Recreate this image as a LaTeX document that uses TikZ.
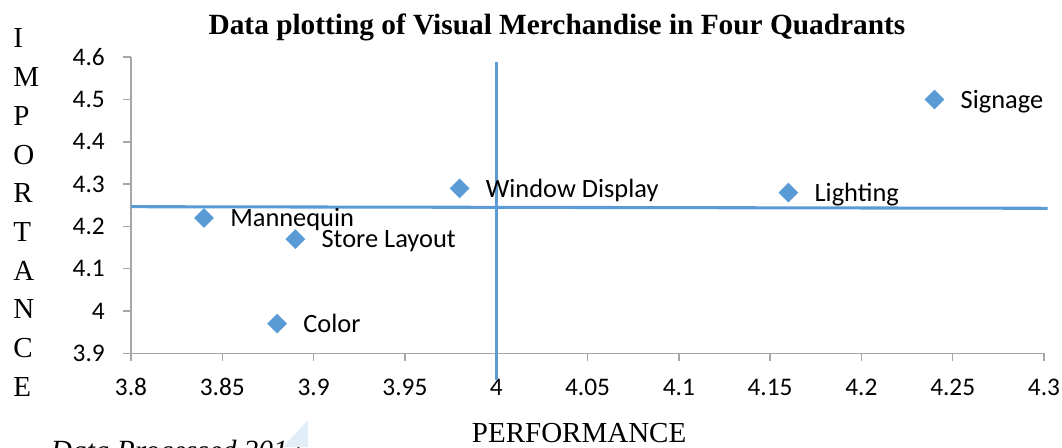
\documentclass[tikz,border=0pt]{standalone}
\usepackage{fontspec}
\setmainfont{Liberation Serif}
\newfontfamily\chartfont{Carlito}
\usetikzlibrary{positioning,shapes.geometric}
\definecolor{quadblue}{HTML}{5B9BD5}
\definecolor{axisgray}{HTML}{A6A6A6}
\tikzset{
  point/.style={diamond, fill=quadblue, inner sep=0pt, minimum width=15pt, minimum height=15pt},
  ptlabel/.style={font=\chartfont\fontsize{19.8}{21}\selectfont, anchor=base west, inner sep=0pt},
  ticklabel/.style={font=\chartfont\fontsize{19}{21}\selectfont, inner sep=0pt},
  axisline/.style={draw=axisgray, line width=1.1pt},
  quadline/.style={draw=quadblue, line width=2.3pt},
  serifbig/.style={font=\fontsize{21.75}{24}\selectfont, inner sep=0pt}
}

\begin{document}
\begin{tikzpicture}[x=0.75pt, y=0.75pt]
  \useasboundingbox (0,0) rectangle (1062,447);
  \clip (0,0) rectangle (1062,447);

  % title and axis names
  \node[font=\bfseries\fontsize{22}{24}\selectfont, anchor=base, inner sep=0pt] (title) at (557,412.7)
    {Data plotting of Visual Merchandise in Four Quadrants};
  \foreach \c [count=\k from 0] in {I,M,P,O,R,T,A,N,C,E}
    \node[serifbig, anchor=base west] (imp-\k) at (13,{399-38.7*\k}) {\c};
  \node[serifbig, anchor=base west] (perf) at (471.7,4.5) {PERFORMANCE};
  \node[serifbig, anchor=base west, font=\itshape\fontsize{22}{24}\selectfont] (src) at (50.7,-13.5) {Data Processed 2017};
  \fill[quadblue!18] (308,27) -- (308,0) -- (283,0) -- cycle;

  % plot area, data units
  \begin{scope}[xshift=98.25pt, yshift=70.275pt, x=1369.5pt, y=317.25pt]
    \coordinate (o) at (0,0);
    \coordinate (ytop) at (0,0.7);
    \coordinate (xend) at (0.5,0);
    \draw[axisline] (ytop) -- (o) -- (xend);
    \foreach \v in {3.9,4,4.1,4.2,4.3,4.4,4.5,4.6} {
      \draw[axisline] ({0},{\v-3.9}) -- ++(-6pt,0);
      \node[ticklabel, anchor=east] (yt-\v) at ([xshift=-19.5pt]0,{\v-3.9}) {\v};
    }
    \foreach \v in {3.8,3.85,3.9,3.95,4,4.05,4.1,4.15,4.2,4.25,4.3} {
      \draw[axisline] ({\v-3.8},0) -- ++(0,-6pt);
      \node[ticklabel, anchor=base] (xt-\v) at ([yshift=-31.3pt]{\v-3.8},0) {\v};
    }

    % quadrant split
    \coordinate (vtop) at (0.2,0.689);
    \coordinate (vbot) at (0.2,-0.063);
    \coordinate (hleft) at (0,0.3466);
    \coordinate (hright) at (0.502,0.3428);
    \draw[quadline] (vtop) -- (vbot);
    \draw[quadline] (hleft) -- (hright);

    % visual merchandise items
    \foreach \p/\i/\name/\lbl in {4.24/4.5/sig/Signage, 4.16/4.28/lig/Lighting,
        3.98/4.29/win/Window Display, 3.84/4.22/man/Mannequin,
        3.89/4.17/sto/Store Layout, 3.88/3.97/col/Color} {
      \node[point] (\name) at ({\p-3.8},{\i-3.9}) {};
      \node[ptlabel] (\name-l) at ([xshift=19.5pt, yshift=-6.6pt]\name.center) {\lbl};
    }
  \end{scope}
\end{tikzpicture}
\end{document}
